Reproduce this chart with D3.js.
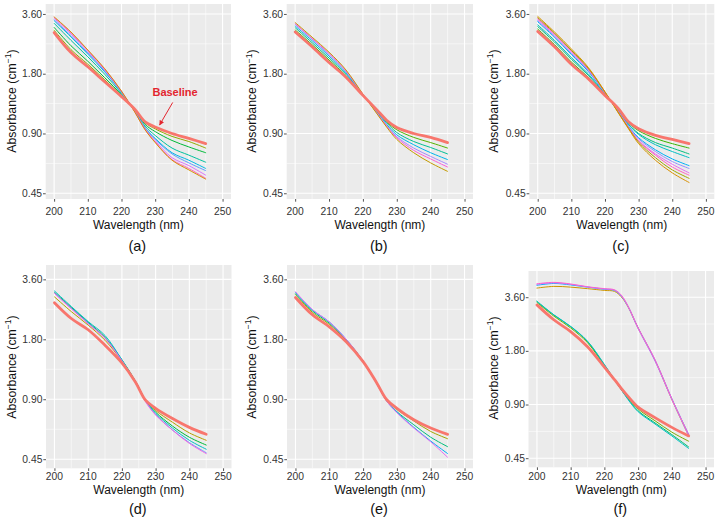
<!DOCTYPE html>
<html><head><meta charset="utf-8">
<script src="https://cdn.jsdelivr.net/npm/d3@7"></script>
<style>body{margin:0;background:#fff}svg{display:block}text{font-family:"Liberation Sans",Arial,sans-serif}</style>
</head><body><svg id="c" width="719" height="521"></svg>
<script>
// ---------- DATA ----------
const wavelengths  = [200, 205, 210, 215, 220, 224, 227, 230, 235, 240, 245];
const wavelengthsF = [200, 205, 210, 215, 220, 223, 225, 227, 230, 235, 240, 245];
const xTicks = [200, 210, 220, 230, 240, 250];
const xMinor = [205, 215, 225, 235, 245];
const yTicks = [0.45, 0.90, 1.80, 3.60];
const yTickLabels = ["0.45", "0.90", "1.80", "3.60"];
const yMinor = [0.636, 1.273, 2.546];
const panelLabels = ["(a)", "(b)", "(c)", "(d)", "(e)", "(f)"];
const xTitle = "Wavelength (nm)";
const annotationText = "Baseline";

// first series of each panel = baseline
const seriesA = [
  [2.90, 2.30, 1.95, 1.64, 1.38, 1.19, 1.03, 0.97, 0.90, 0.85, 0.80],
  [2.98, 2.38, 2.01, 1.68, 1.39, 1.185, 1.02, 0.95, 0.87, 0.82, 0.76],
  [3.08, 2.49, 2.08, 1.72, 1.41, 1.18, 1.00, 0.92, 0.83, 0.77, 0.72],
  [3.23, 2.65, 2.19, 1.79, 1.43, 1.17, 0.98, 0.88, 0.76, 0.70, 0.645],
  [3.33, 2.76, 2.26, 1.84, 1.45, 1.16, 0.96, 0.85, 0.72, 0.66, 0.60],
  [3.36, 2.80, 2.29, 1.86, 1.45, 1.16, 0.96, 0.84, 0.71, 0.64, 0.585],
  [3.42, 2.86, 2.33, 1.88, 1.46, 1.155, 0.95, 0.826, 0.68, 0.62, 0.555],
  [3.46, 2.90, 2.36, 1.90, 1.47, 1.15, 0.94, 0.815, 0.665, 0.60, 0.535],
  [3.48, 2.92, 2.37, 1.91, 1.47, 1.15, 0.94, 0.81, 0.66, 0.59, 0.53]
];
const colorsA = ["#F8766D", "#93AA00", "#00BA38", "#00C19F", "#00B9E3", "#619CFF", "#DB72FB", "#FF61C3", "#D39200"];

const seriesB = [
  [2.92, 2.46, 2.05, 1.73, 1.40, 1.19, 1.05, 0.965, 0.90, 0.86, 0.81],
  [2.99, 2.52, 2.11, 1.76, 1.40, 1.18, 1.03, 0.94, 0.86, 0.81, 0.76],
  [3.07, 2.58, 2.16, 1.79, 1.41, 1.17, 1.02, 0.91, 0.82, 0.765, 0.71],
  [3.13, 2.64, 2.21, 1.82, 1.41, 1.16, 1.00, 0.886, 0.79, 0.72, 0.665],
  [3.19, 2.69, 2.25, 1.84, 1.415, 1.15, 0.99, 0.867, 0.76, 0.69, 0.63],
  [3.22, 2.71, 2.28, 1.86, 1.42, 1.147, 0.98, 0.856, 0.74, 0.67, 0.61],
  [3.26, 2.75, 2.31, 1.88, 1.42, 1.14, 0.97, 0.84, 0.72, 0.64, 0.58]
];
const colorsB = ["#F8766D", "#53B400", "#00C094", "#00B6EB", "#A58AFF", "#FB61D7", "#C49A00"];

const seriesC = [
  [2.94, 2.46, 2.01, 1.70, 1.40, 1.20, 1.03, 0.95, 0.88, 0.84, 0.80],
  [3.02, 2.52, 2.06, 1.73, 1.41, 1.19, 1.02, 0.93, 0.85, 0.80, 0.76],
  [3.11, 2.60, 2.13, 1.77, 1.42, 1.18, 1.005, 0.90, 0.81, 0.76, 0.71],
  [3.17, 2.65, 2.17, 1.80, 1.425, 1.175, 1.00, 0.89, 0.79, 0.73, 0.68],
  [3.29, 2.75, 2.25, 1.85, 1.44, 1.16, 0.98, 0.857, 0.745, 0.67, 0.62],
  [3.33, 2.78, 2.28, 1.87, 1.44, 1.16, 0.975, 0.846, 0.73, 0.65, 0.60],
  [3.38, 2.82, 2.32, 1.89, 1.45, 1.15, 0.967, 0.83, 0.71, 0.63, 0.57],
  [3.41, 2.85, 2.34, 1.90, 1.45, 1.15, 0.963, 0.824, 0.70, 0.61, 0.555],
  [3.45, 2.88, 2.36, 1.92, 1.455, 1.145, 0.957, 0.814, 0.68, 0.59, 0.535],
  [3.50, 2.92, 2.40, 1.94, 1.46, 1.14, 0.95, 0.80, 0.66, 0.57, 0.51]
];
const colorsC = ["#F8766D", "#39B600", "#00BF7D", "#00BFC4", "#00B0F6", "#9590FF", "#E76BF3", "#FF62BC", "#A3A500", "#D89000"];

const seriesD = [
  [2.75, 2.29, 2.01, 1.68, 1.37, 1.10, 0.89, 0.81, 0.72, 0.65, 0.60],
  [2.94, 2.48, 2.12, 1.78, 1.40, 1.10, 0.89, 0.79, 0.69, 0.61, 0.56],
  [3.10, 2.60, 2.19, 1.84, 1.42, 1.11, 0.89, 0.775, 0.66, 0.58, 0.53],
  [3.15, 2.63, 2.21, 1.88, 1.42, 1.11, 0.89, 0.765, 0.645, 0.56, 0.505],
  [3.08, 2.58, 2.17, 1.83, 1.41, 1.10, 0.88, 0.755, 0.63, 0.545, 0.485],
  [3.06, 2.56, 2.15, 1.82, 1.40, 1.09, 0.875, 0.75, 0.63, 0.54, 0.48]
];
const colorsD = ["#F8766D", "#B79F00", "#00BA38", "#00BFC4", "#619CFF", "#F564E3"];

const seriesE = [
  [2.92, 2.39, 2.08, 1.75, 1.39, 1.09, 0.895, 0.81, 0.71, 0.645, 0.60],
  [3.02, 2.46, 2.14, 1.78, 1.40, 1.09, 0.89, 0.80, 0.70, 0.62, 0.57],
  [3.05, 2.50, 2.17, 1.79, 1.40, 1.085, 0.885, 0.78, 0.67, 0.58, 0.52],
  [3.10, 2.53, 2.20, 1.80, 1.40, 1.08, 0.88, 0.775, 0.65, 0.555, 0.48],
  [3.12, 2.54, 2.20, 1.80, 1.40, 1.08, 0.88, 0.77, 0.645, 0.55, 0.46]
];
const colorsE = ["#F8766D", "#A3A500", "#00BF7D", "#00B0F6", "#E76BF3"];

const seriesF = [
  [3.26, 2.69, 2.31, 1.90, 1.46, 1.24, 1.11, 1.00, 0.87, 0.76, 0.67, 0.60],
  [3.36, 2.82, 2.42, 2.00, 1.49, 1.24, 1.10, 0.98, 0.85, 0.73, 0.63, 0.56],
  [3.40, 2.86, 2.46, 2.03, 1.50, 1.24, 1.09, 0.97, 0.83, 0.71, 0.61, 0.52],
  [3.42, 2.87, 2.47, 2.04, 1.51, 1.24, 1.09, 0.96, 0.82, 0.70, 0.60, 0.51],
  [4.05, 4.14, 4.10, 4.02, 3.93, 3.88, 3.62, 3.18, 2.41, 1.59, 0.96, 0.60],
  [4.20, 4.30, 4.22, 4.10, 3.99, 3.93, 3.65, 3.20, 2.42, 1.60, 0.97, 0.61],
  [4.25, 4.33, 4.25, 4.11, 4.00, 3.94, 3.66, 3.19, 2.40, 1.58, 0.96, 0.60],
  [4.28, 4.36, 4.27, 4.12, 4.02, 3.96, 3.70, 3.22, 2.43, 1.61, 0.97, 0.61]
];
const colorsF = ["#F8766D", "#7CAE00", "#00BE67", "#00BFC4", "#CD9600", "#00A9FF", "#C77CFF", "#FF61CC"];

// ---------- LAYOUT ----------
const layouts = [
  {x0:45.7, x1:231,   y0:4,   y1:199,   yDom:[0.421,4.04], tickY:215.3, titleY:228.5, labelY:250.6, ytx:15.5,  yty:101},
  {x0:286.7,x1:473,   y0:4,   y1:199,   yDom:[0.421,4.04], tickY:215.3, titleY:228.5, labelY:250.6, ytx:256,   yty:101},
  {x0:529.3,x1:714.3, y0:4,   y1:199,   yDom:[0.421,4.04], tickY:215.3, titleY:228.5, labelY:250.6, ytx:497.6, yty:101},
  {x0:46,   x1:231.5, y0:265, y1:468.3, yDom:[0.405,4.25], tickY:480.3, titleY:493.5, labelY:514.4, ytx:15.5,  yty:367},
  {x0:287,  x1:473,   y0:265, y1:468.3, yDom:[0.405,4.25], tickY:480.3, titleY:493.5, labelY:514.4, ytx:255.5, yty:367},
  {x0:528.5,x1:714,   y0:271, y1:467.3, yDom:[0.40,5.05],  tickY:480.3, titleY:493.5, labelY:513.5, ytx:497.6, yty:368}
];
const panels = [
  {w: wavelengths,  s: seriesA, c: colorsA},
  {w: wavelengths,  s: seriesB, c: colorsB},
  {w: wavelengths,  s: seriesC, c: colorsC},
  {w: wavelengths,  s: seriesD, c: colorsD},
  {w: wavelengths,  s: seriesE, c: colorsE},
  {w: wavelengthsF, s: seriesF, c: colorsF}
];

const svg = d3.select("#c");

panels.forEach((p, i) => {
  const L = layouts[i];
  const x = d3.scaleLinear().domain([197.5, 252.5]).range([L.x0, L.x1]);
  const y = d3.scaleLog().domain(L.yDom).range([L.y1, L.y0]);
  const g = svg.append("g");

  g.append("rect").attr("x", L.x0).attr("y", L.y0)
    .attr("width", L.x1 - L.x0).attr("height", L.y1 - L.y0).attr("fill", "#EBEBEB");

  // minor grid
  g.selectAll(".mx").data(xMinor).enter().append("line")
    .attr("x1", d => x(d)).attr("x2", d => x(d)).attr("y1", L.y0).attr("y2", L.y1)
    .attr("stroke", "#fff").attr("stroke-width", 0.55);
  g.selectAll(".my").data(yMinor).enter().append("line")
    .attr("y1", d => y(d)).attr("y2", d => y(d)).attr("x1", L.x0).attr("x2", L.x1)
    .attr("stroke", "#fff").attr("stroke-width", 0.55);
  // major grid
  g.selectAll(".gx").data(xTicks).enter().append("line")
    .attr("x1", d => x(d)).attr("x2", d => x(d)).attr("y1", L.y0).attr("y2", L.y1)
    .attr("stroke", "#fff").attr("stroke-width", 1.1);
  g.selectAll(".gy").data(yTicks).enter().append("line")
    .attr("y1", d => y(d)).attr("y2", d => y(d)).attr("x1", L.x0).attr("x2", L.x1)
    .attr("stroke", "#fff").attr("stroke-width", 1.1);

  // lines
  const line = d3.line().x(d => x(d[0])).y(d => y(d[1])).curve(d3.curveCatmullRom.alpha(0.5));
  const order = d3.range(1, p.s.length).concat([0]);
  order.forEach(k => {
    const pts = p.w.map((w, j) => [w, p.s[k][j]]);
    g.append("path").attr("d", line(pts)).attr("fill", "none")
      .attr("stroke", p.c[k]).attr("stroke-width", k === 0 ? 2.8 : 1)
      .attr("stroke-linejoin", "round").attr("stroke-linecap", "round");
  });

  // x axis
  const xa = d3.axisBottom(x).tickValues(xTicks).tickSize(2.7).tickFormat("");
  const xg = g.append("g").attr("transform", `translate(0,${L.y1})`).call(xa);
  xg.select(".domain").remove();
  xg.selectAll("line").attr("stroke", "#555");
  g.selectAll(".xt").data(xTicks).enter().append("text")
    .attr("x", d => x(d)).attr("y", L.tickY).attr("text-anchor", "middle")
    .attr("font-size", 10.3).attr("fill", "#333").text(d => d);

  // y axis
  const ya = d3.axisLeft(y).tickValues(yTicks).tickSize(2.7).tickFormat("");
  const yg = g.append("g").attr("transform", `translate(${L.x0},0)`).call(ya);
  yg.select(".domain").remove();
  yg.selectAll("line").attr("stroke", "#555");
  g.selectAll(".yt").data(yTicks).enter().append("text")
    .attr("x", L.x0 - 3.6).attr("y", d => y(d) + 3.6).attr("text-anchor", "end")
    .attr("font-size", 10.3).attr("fill", "#333").text((d, j) => yTickLabels[j]);

  // titles
  g.append("text").attr("x", (L.x0 + L.x1) / 2).attr("y", L.titleY)
    .attr("text-anchor", "middle").attr("font-size", 12).attr("fill", "#111").text(xTitle);
  const yt = g.append("text").attr("transform", `translate(${L.ytx},${L.yty}) rotate(-90)`)
    .attr("text-anchor", "middle").attr("font-size", 12.3).attr("fill", "#111");
  yt.append("tspan").text("Absorbance (cm");
  yt.append("tspan").attr("font-size", 8.5).attr("dy", -4.5).text("\u22121");
  yt.append("tspan").attr("dy", 4.5).text(")");

  g.append("text").attr("x", (L.x0 + L.x1) / 2 - 1).attr("y", L.labelY)
    .attr("text-anchor", "middle").attr("font-size", 14.5).attr("fill", "#111").text(panelLabels[i]);

  if (i === 0) {
    const red = "#E3262F";
    svg.append("defs").append("marker").attr("id", "ah").attr("viewBox", "0 0 10 10")
      .attr("refX", 9).attr("refY", 5).attr("markerWidth", 5).attr("markerHeight", 5)
      .attr("orient", "auto").append("path").attr("d", "M0,0L10,5L0,10z").attr("fill", red);
    g.append("line").attr("x1", x(235.2)).attr("y1", y(1.29)).attr("x2", x(231.3)).attr("y2", y(0.993))
      .attr("stroke", red).attr("stroke-width", 1).attr("marker-end", "url(#ah)");
    g.append("text").attr("x", x(235.9)).attr("y", y(1.45) + 4).attr("text-anchor", "middle")
      .attr("font-size", 11).attr("font-weight", "bold").attr("fill", red).text(annotationText);
  }
});
</script></body></html>
